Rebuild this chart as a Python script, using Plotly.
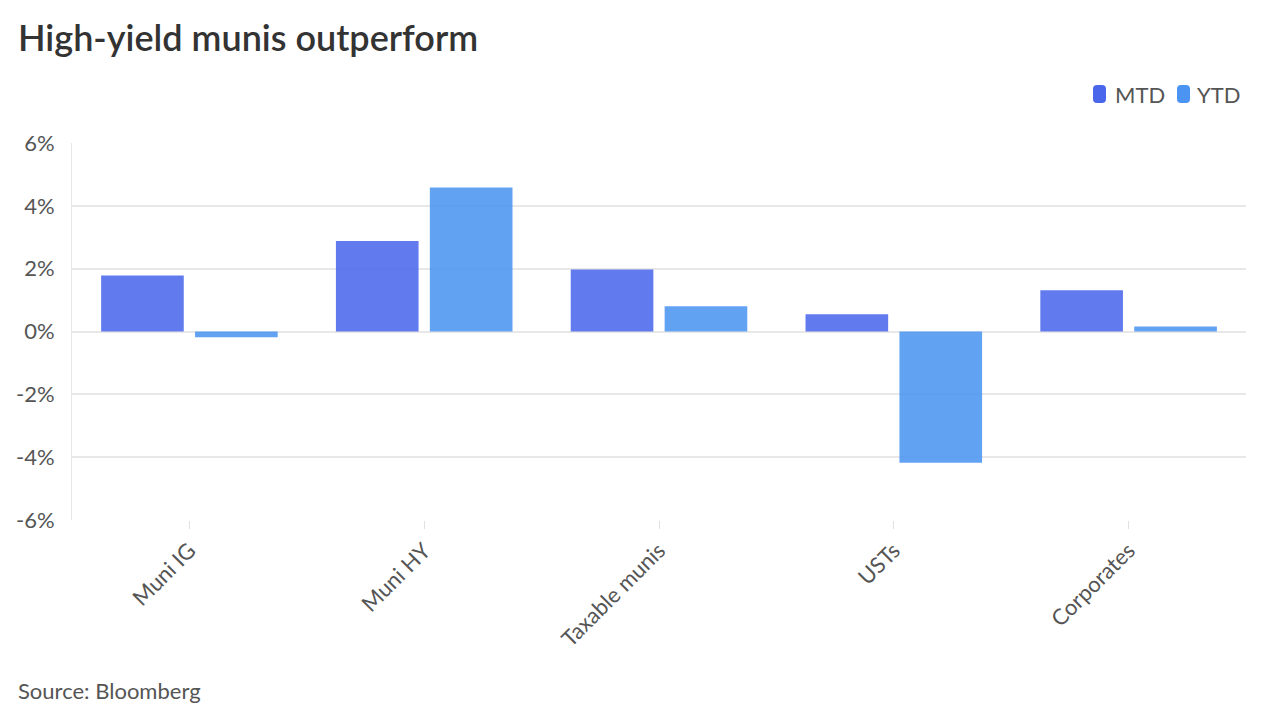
import plotly.graph_objects as go

categories = ["Muni IG", "Muni HY", "Taxable munis", "USTs", "Corporates"]
mtd = [1.78, 2.88, 1.97, 0.55, 1.31]
ytd = [-0.18, 4.58, 0.80, -4.18, 0.16]
series_names = ["MTD", "YTD"]
tick_vals = [-6, -4, -2, 0, 2, 4, 6]
tick_text = ["-6%", "-4%", "-2%", "0%", "2%", "4%", "6%"]

MTD_COLOR = "#4A67EC"
YTD_COLOR = "#4B94F1"
colors = [MTD_COLOR, YTD_COLOR]
BAR_OPACITY = 0.87

# page body has an 8px margin, so the figure is laid out in coordinates offset by 8px
W, H = 1264, 704
L, T, R, B = 64, 135, 26, 192
plot_w = W - L - R
plot_h = H - T - B
plot_bottom = H - B


def px(x):
    return (x - L) / plot_w


def py(y):
    return (plot_bottom - y) / plot_h


fig = go.Figure()
for name, vals, col in zip(series_names, [mtd, ytd], colors):
    fig.add_trace(go.Bar(x=categories, y=vals, name=name, marker_color=col,
                         marker_opacity=BAR_OPACITY, marker_line_width=0))

fig.update_layout(
    width=W, height=H,
    paper_bgcolor="white", plot_bgcolor="white",
    font=dict(family="Lato, 'Open Sans', sans-serif", color="#555555", size=22),
    margin=dict(l=L, r=R, t=T, b=B, autoexpand=False),
    barmode="group", bargap=0.2, bargroupgap=0.12,
    showlegend=False,
    title=dict(text="High-yield munis outperform", x=10 / W, xanchor="left",
               y=1 - 30 / H, yanchor="middle",
               font=dict(size=36, color="#333333", family="Lato", weight=600)),
)

# custom legend: rounded swatches + labels
legend_items = [(1085, 1106), (1169, 1188)]  # (swatch left, text left) in figure px
sw_w, sw_h, rad = 13, 18, 4
sw_top = 77
for (sx, tx), name, col in zip(legend_items, series_names, colors):
    x0, x1 = sx, sx + sw_w
    y0, y1 = sw_top, sw_top + sw_h
    path = (f"M {px(x0 + rad)} {py(y0)} L {px(x1 - rad)} {py(y0)} "
            f"Q {px(x1)} {py(y0)} {px(x1)} {py(y0 + rad)} "
            f"L {px(x1)} {py(y1 - rad)} Q {px(x1)} {py(y1)} {px(x1 - rad)} {py(y1)} "
            f"L {px(x0 + rad)} {py(y1)} Q {px(x0)} {py(y1)} {px(x0)} {py(y1 - rad)} "
            f"L {px(x0)} {py(y0 + rad)} Q {px(x0)} {py(y0)} {px(x0 + rad)} {py(y0)} Z")
    fig.add_shape(type="path", path=path, xref="paper", yref="paper",
                  fillcolor=col, line_width=0)
    fig.add_annotation(text=name, xref="paper", yref="paper", x=px(tx), y=py(sw_top + sw_h / 2),
                       xanchor="left", yanchor="middle", showarrow=False, borderpad=0,
                       font=dict(size=22, color="#555555"))

fig.add_annotation(text="Source: Bloomberg", xref="paper", yref="paper",
                   x=px(9), xanchor="left", y=py(682),
                   yanchor="middle", showarrow=False, borderpad=0,
                   font=dict(size=22, color="#555555"))

fig.update_yaxes(range=[-6, 6], tickvals=tick_vals, ticktext=tick_text,
                 showgrid=True, gridcolor="#e8e8e8", gridwidth=1.5,
                 zeroline=True, zerolinecolor="#e8e8e8", zerolinewidth=1.5,
                 showline=True, linecolor="#e8e8e8", linewidth=1,
                 ticks="", ticklabelstandoff=12, automargin=False,
                 tickfont=dict(size=22, color="#555555"))
fig.update_xaxes(showline=False, showgrid=False, ticks="outside", ticklen=8,
                 tickcolor="#e0e0e0", tickangle=-45, automargin=False,
                 tickfont=dict(size=22, color="#555555"))

fig.write_html("out.html")
